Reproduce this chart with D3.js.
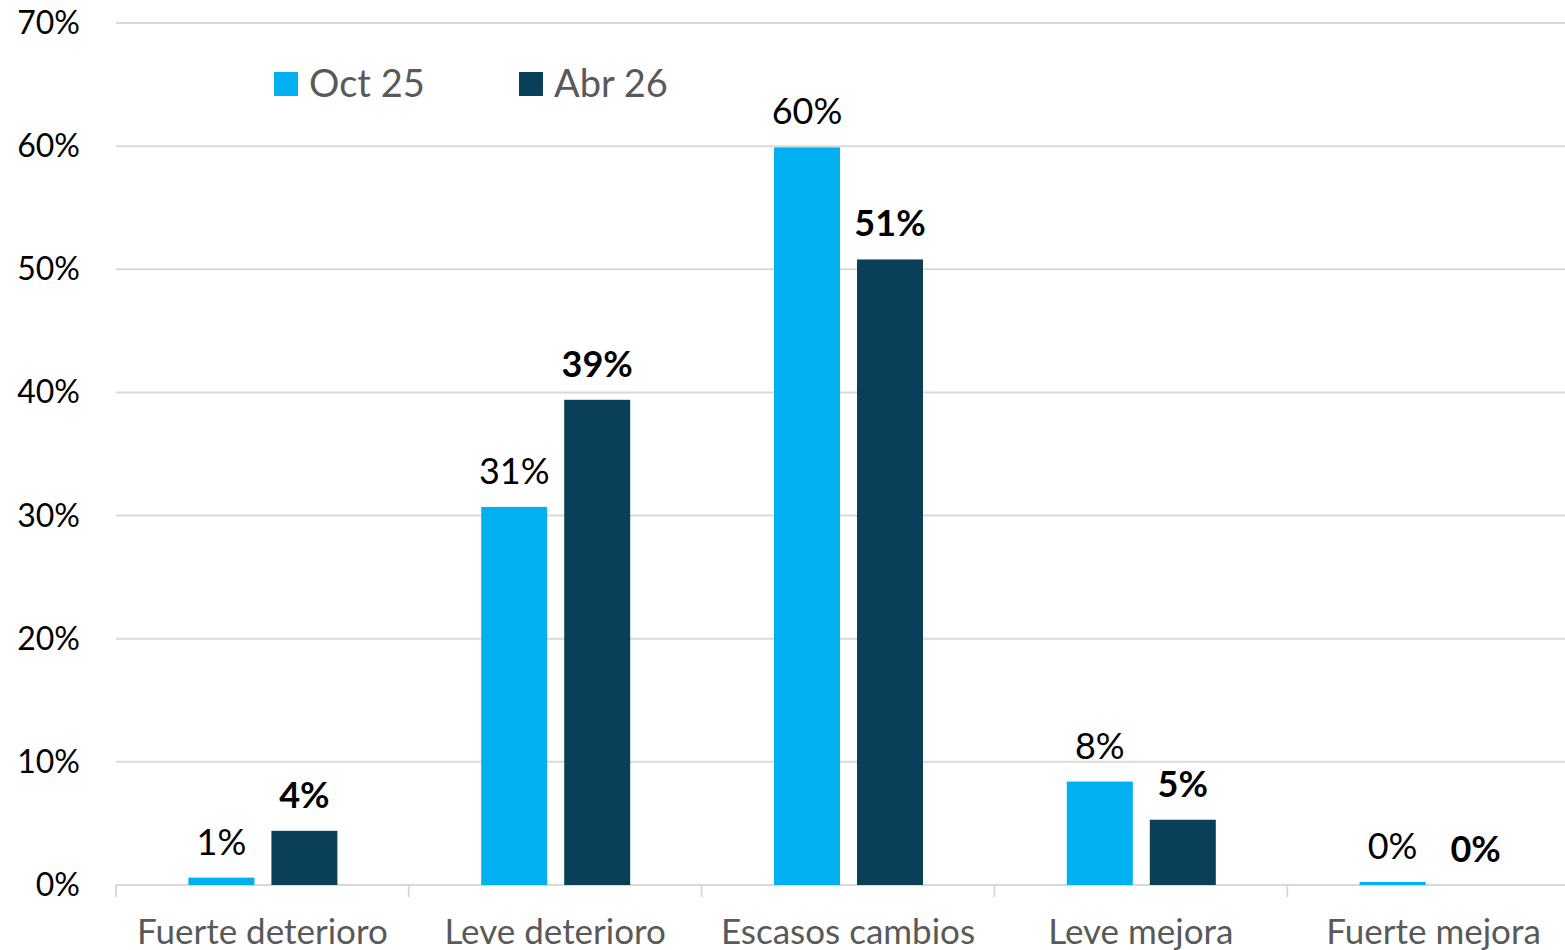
<!DOCTYPE html>
<html>
<head>
<meta charset="utf-8">
<script src="https://cdn.jsdelivr.net/npm/d3@7"></script>
<style>
  body { margin: 0; background: #fff; overflow: hidden; }
  svg { display: block; font-family: Lato, "Open Sans", sans-serif; }
</style>
</head>
<body>
<svg width="1565" height="950"></svg>
<script>
// data
var categories = ["Fuerte deterioro", "Leve deterioro", "Escasos cambios", "Leve mejora", "Fuerte mejora"];
var seriesNames = ["Oct 25", "Abr 26"];
var oct25 = [0.6, 30.7, 59.9, 8.4, 0.25];
var abr26 = [4.4, 39.4, 50.8, 5.3, 0];
var labelsOct = ["1%", "31%", "60%", "8%", "0%"];
var labelsAbr = ["4%", "39%", "51%", "5%", "0%"];
var yTicks = [0, 10, 20, 30, 40, 50, 60, 70];
var colors = ["#00b0f0", "#0a3f5a"];

var svg = d3.select("svg");
var pLeft = 116, pRight = 1580, pTop = 23, pBottom = 885;

var x0 = d3.scaleBand().domain(categories).range([pLeft, pRight]);
var bw = x0.bandwidth();
var x1 = d3.scaleBand().domain(seriesNames)
    .range([bw / 2 - 74, bw / 2 + 75]).paddingInner(0.205);
var y = d3.scaleLinear().domain([0, 70]).range([pBottom, pTop]);

// grid
svg.append("g")
    .selectAll("line")
    .data(yTicks)
    .enter()
    .append("line")
    .attr("x1", pLeft).attr("x2", pRight)
    .attr("y1", function (d) { return y(d); })
    .attr("y2", function (d) { return y(d); })
    .attr("stroke", "#d9d9d9")
    .attr("stroke-width", 2);

// y labels
svg.append("g")
    .selectAll("text")
    .data(yTicks)
    .enter()
    .append("text")
    .attr("x", 80)
    .attr("y", function (d) { return y(d) + 11; })
    .attr("text-anchor", "end")
    .attr("font-size", "32px")
    .attr("fill", "#000")
    .text(function (d) { return d + "%"; });

// category separators
svg.append("g")
    .selectAll("line")
    .data(categories)
    .enter()
    .append("line")
    .attr("x1", function (d) { return x0(d); })
    .attr("x2", function (d) { return x0(d); })
    .attr("y1", pBottom).attr("y2", pBottom + 12)
    .attr("stroke", "#d9d9d9")
    .attr("stroke-width", 2);

// category labels
svg.append("g")
    .selectAll("text")
    .data(categories)
    .enter()
    .append("text")
    .attr("x", function (d) { return x0(d) + bw / 2; })
    .attr("y", 944)
    .attr("text-anchor", "middle")
    .attr("font-size", "35px")
    .attr("fill", "#595959")
    .text(function (d) { return d; });

// bars
var rows = categories.map(function (c, i) {
    return [
        { cat: c, s: 0, v: oct25[i], lab: labelsOct[i] },
        { cat: c, s: 1, v: abr26[i], lab: labelsAbr[i] }
    ];
});

var g = svg.append("g")
    .selectAll("g")
    .data(rows)
    .enter()
    .append("g")
    .attr("transform", function (d) { return "translate(" + x0(d[0].cat) + ",0)"; });

g.selectAll("rect")
    .data(function (d) { return d; })
    .enter()
    .append("rect")
    .attr("x", function (d) { return x1(seriesNames[d.s]); })
    .attr("y", function (d) { return y(d.v); })
    .attr("width", x1.bandwidth())
    .attr("height", function (d) { return y(0) - y(d.v); })
    .attr("fill", function (d) { return colors[d.s]; });

g.selectAll("text")
    .data(function (d) { return d; })
    .enter()
    .append("text")
    .attr("x", function (d) { return x1(seriesNames[d.s]) + x1.bandwidth() / 2; })
    .attr("y", function (d) { return y(d.v) - 23; })
    .attr("text-anchor", "middle")
    .attr("font-size", "36px")
    .attr("font-weight", function (d) { return d.s == 1 ? "bold" : "normal"; })
    .attr("fill", "#000")
    .text(function (d) { return d.lab; });

// legend
var legX = [274, 519];
var leg = svg.append("g")
    .selectAll("g")
    .data(seriesNames)
    .enter()
    .append("g")
    .attr("transform", function (d, i) { return "translate(" + legX[i] + ",72)"; });
leg.append("rect")
    .attr("width", 24).attr("height", 24)
    .attr("fill", function (d, i) { return colors[i]; });
leg.append("text")
    .attr("x", 35).attr("y", 25)
    .attr("font-size", "38px")
    .attr("fill", "#595959")
    .text(function (d) { return d; });
</script>
</body>
</html>
